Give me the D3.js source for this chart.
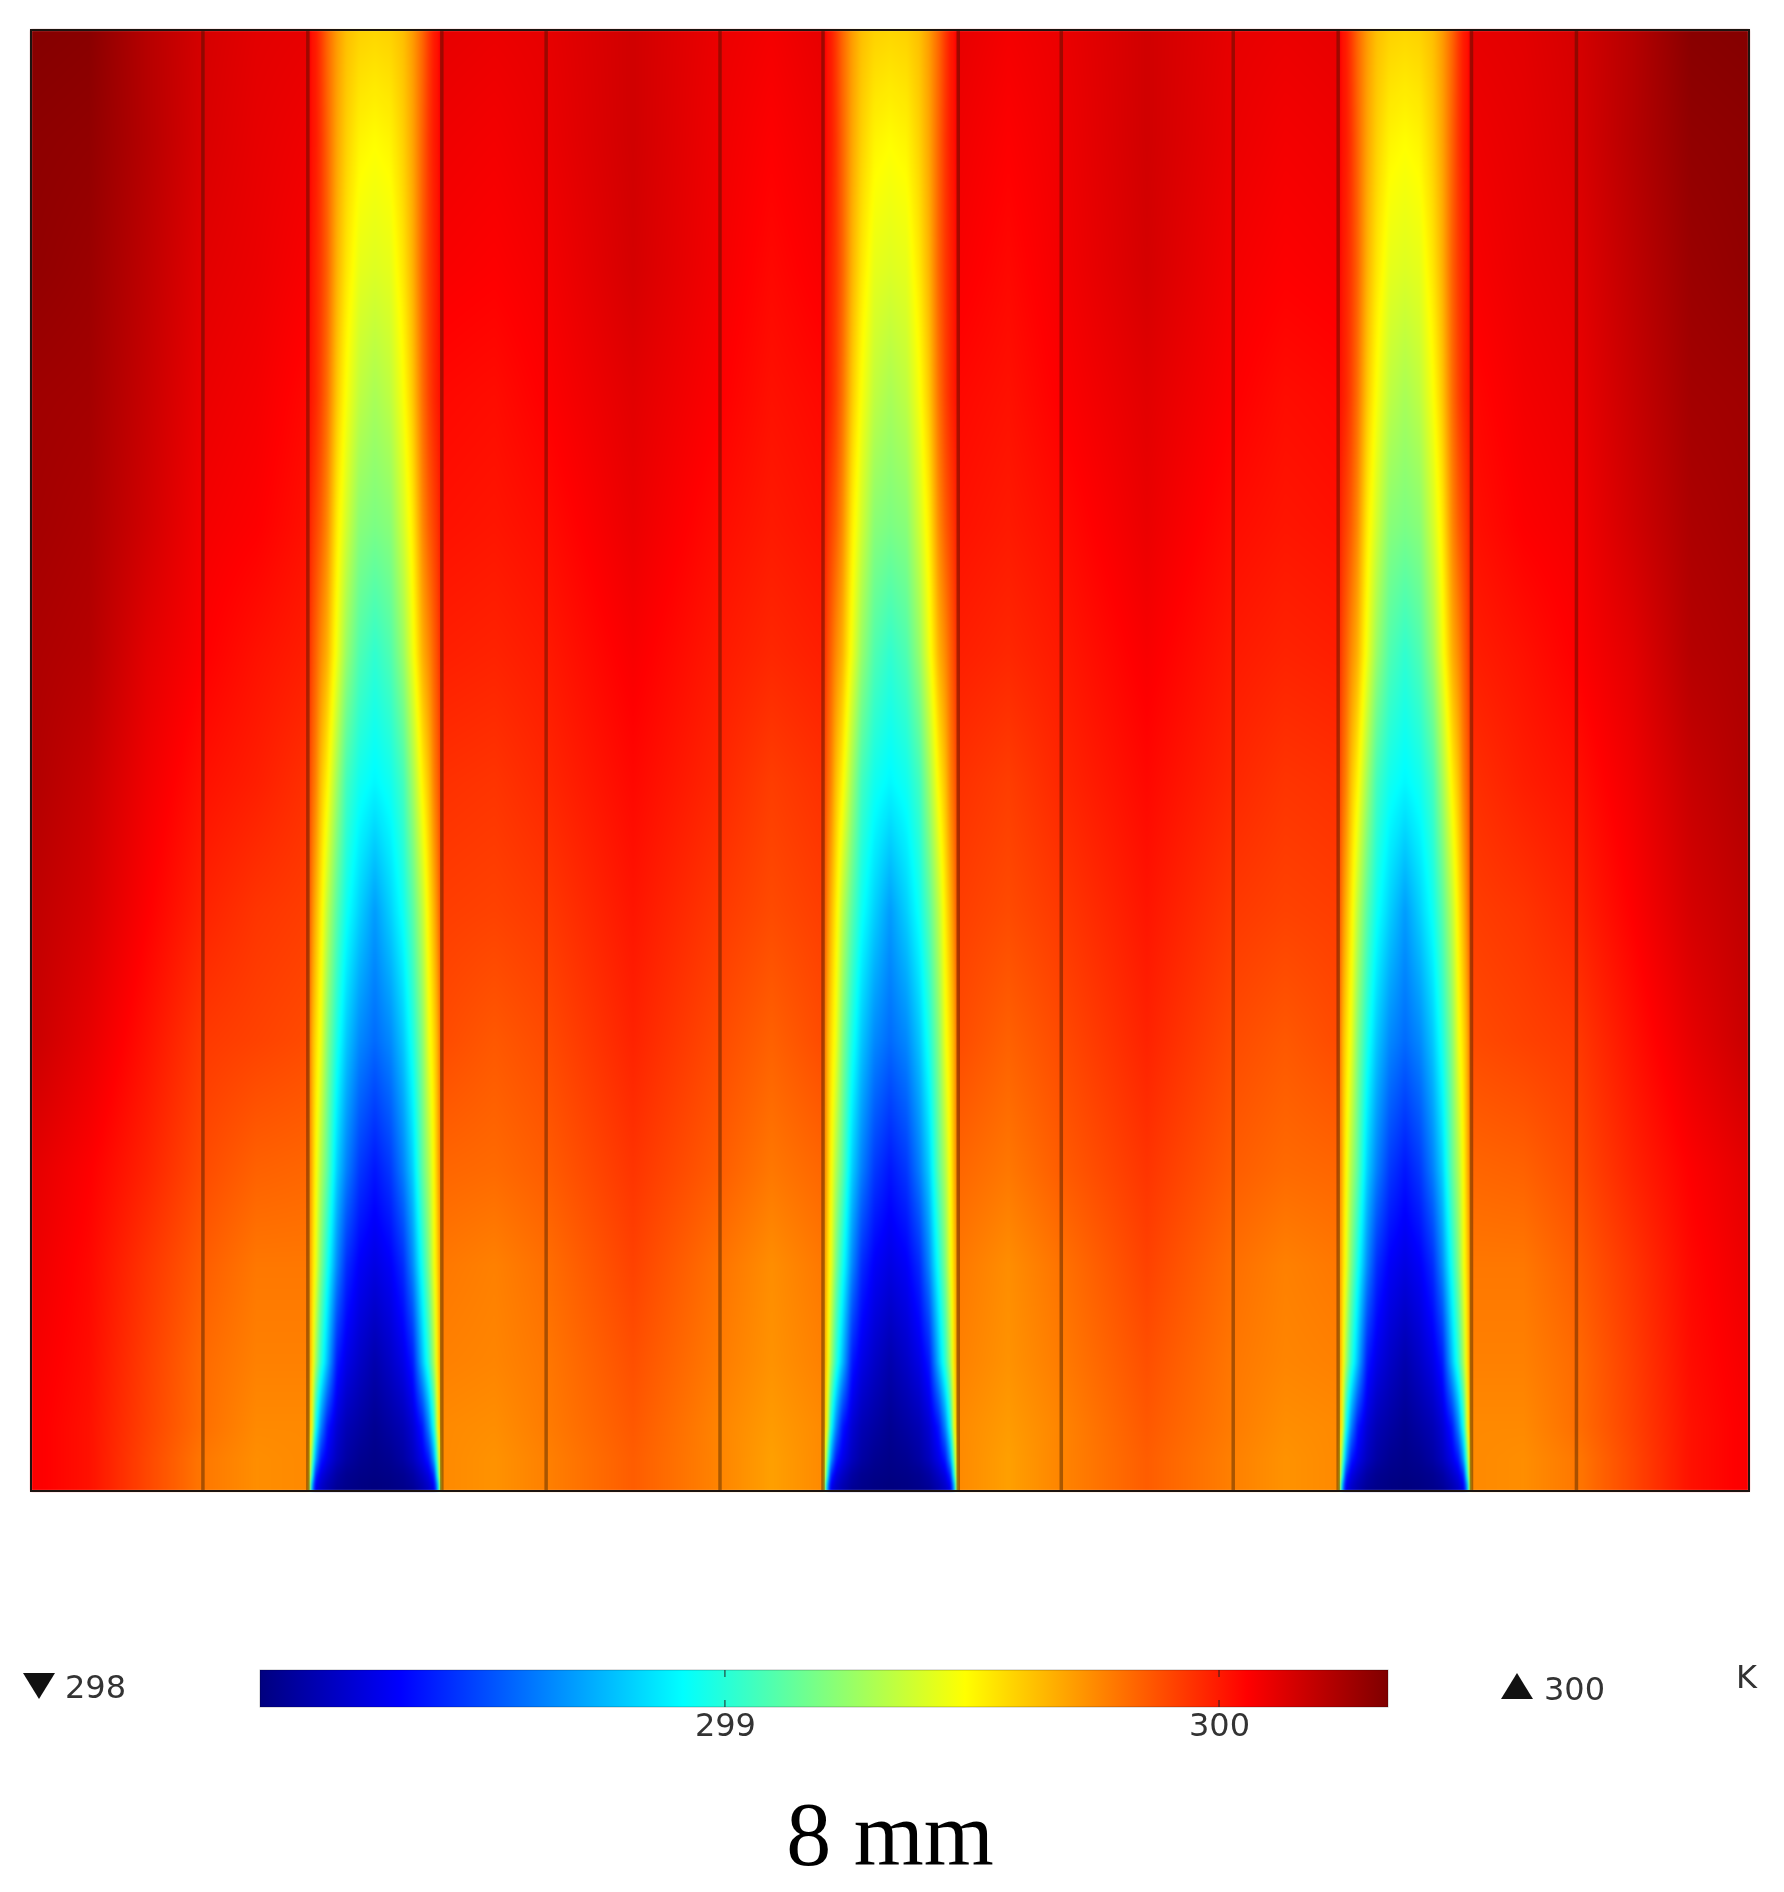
<!DOCTYPE html>
<html>
<head>
<meta charset="utf-8">
<script src="https://cdn.jsdelivr.net/npm/d3@7"></script>
<style>
  html, body { margin: 0; background: #fff; }
  #chart { position: relative; width: 1784px; height: 1892px; overflow: hidden; }
  #chart canvas, #chart svg { position: absolute; }
  #chart canvas { filter: blur(1.2px); }
</style>
</head>
<body>
<div id="chart"></div>
<script>
// temperatures in K. heights run bottom to top, in mm
const heights = [0, 0.1, 0.25, 0.5, 1, 2, 3.5, 5, 7, 9, 11, 13, 15, 17, 19, 21, 22.7];

// distance from the channel wall to the channel centre, in mm
const channelOffsets = [0, 0.06, 0.12, 0.2, 0.3, 0.45, 0.6, 0.8, 1.04];
const channelT = [
  [299.75, 298.74, 298.29, 298.22, 298.17, 298.10, 298.08, 298.07, 298.06],
  [299.75, 298.79, 298.34, 298.24, 298.18, 298.12, 298.09, 298.07, 298.06],
  [299.75, 299.02, 298.45, 298.29, 298.22, 298.14, 298.10, 298.08, 298.07],
  [299.75, 299.20, 298.70, 298.41, 298.30, 298.20, 298.14, 298.10, 298.08],
  [299.75, 299.47, 298.97, 298.65, 298.40, 298.25, 298.18, 298.14, 298.10],
  [299.77, 299.57, 299.29, 299.02, 298.77, 298.40, 298.29, 298.22, 298.16],
  [299.79, 299.61, 299.45, 299.20, 298.97, 298.65, 298.44, 298.33, 298.28],
  [299.83, 299.66, 299.50, 299.31, 299.13, 298.81, 298.63, 298.47, 298.39],
  [299.89, 299.68, 299.57, 299.45, 299.22, 298.97, 298.79, 298.65, 298.58],
  [299.92, 299.77, 299.66, 299.53, 299.34, 299.11, 298.94, 298.81, 298.69],
  [299.95, 299.84, 299.77, 299.63, 299.51, 299.27, 299.06, 298.95, 298.90],
  [299.99, 299.90, 299.84, 299.75, 299.66, 299.45, 299.25, 299.09, 299.02],
  [300.02, 299.95, 299.91, 299.85, 299.75, 299.53, 299.38, 299.22, 299.19],
  [300.04, 300.00, 299.97, 299.91, 299.81, 299.61, 299.47, 299.34, 299.29],
  [300.07, 300.01, 299.98, 299.93, 299.84, 299.66, 299.54, 299.43, 299.41],
  [300.09, 300.02, 300.00, 299.94, 299.84, 299.69, 299.59, 299.51, 299.49],
  [300.11, 300.02, 300.00, 299.93, 299.83, 299.71, 299.63, 299.59, 299.58],
];

// outer plate, left side. the right side is its mirror
const outerX = [0, 0.9, 1.8, 2.67, 3.5];
const outerT = [
  [300.07, 300.02, 299.90, 299.79, 299.74],
  [300.07, 300.02, 299.90, 299.79, 299.74],
  [300.07, 300.02, 299.90, 299.79, 299.74],
  [300.07, 300.02, 299.90, 299.79, 299.74],
  [300.07, 300.02, 299.91, 299.81, 299.75],
  [300.08, 300.03, 299.92, 299.82, 299.77],
  [300.10, 300.04, 299.94, 299.85, 299.79],
  [300.12, 300.06, 299.98, 299.89, 299.84],
  [300.18, 300.11, 300.02, 299.93, 299.91],
  [300.20, 300.15, 300.06, 299.98, 299.94],
  [300.23, 300.18, 300.09, 300.02, 299.99],
  [300.24, 300.22, 300.12, 300.06, 300.02],
  [300.26, 300.24, 300.16, 300.08, 300.06],
  [300.27, 300.26, 300.18, 300.10, 300.08],
  [300.30, 300.28, 300.20, 300.12, 300.10],
  [300.31, 300.30, 300.22, 300.14, 300.11],
  [300.33, 300.32, 300.22, 300.15, 300.12],
];

// solid between two channels
const ribX = [7.2, 8, 9.35, 10.7, 11.5];
const ribT = [
  [299.73, 299.77, 299.85, 299.76, 299.70],
  [299.73, 299.77, 299.85, 299.76, 299.70],
  [299.73, 299.77, 299.85, 299.76, 299.70],
  [299.73, 299.77, 299.85, 299.76, 299.70],
  [299.74, 299.78, 299.86, 299.76, 299.71],
  [299.76, 299.79, 299.88, 299.78, 299.73],
  [299.77, 299.81, 299.91, 299.80, 299.74],
  [299.82, 299.85, 299.94, 299.85, 299.79],
  [299.86, 299.89, 299.98, 299.89, 299.84],
  [299.91, 299.93, 300.01, 299.93, 299.89],
  [299.94, 299.97, 300.04, 299.97, 299.92],
  [299.98, 300.00, 300.07, 300.00, 299.97],
  [300.01, 300.03, 300.10, 300.03, 300.00],
  [300.03, 300.06, 300.12, 300.06, 300.02],
  [300.06, 300.08, 300.15, 300.08, 300.04],
  [300.08, 300.10, 300.16, 300.09, 300.06],
  [300.10, 300.11, 300.16, 300.10, 300.08],
];

const channelWalls = [[4.3, 6.38], [12.3, 14.4], [20.3, 22.37]];
const domainLines = [2.67, 4.3, 6.38, 8, 10.7, 12.3, 14.4, 16, 18.67, 20.3, 22.37, 24];
const plateWidth = 26.68;
const plateHeight = 22.7;

const colorStops = [298.059, 298.344, 298.915, 299.486, 300.057, 300.342];
const colorNames = ['#00007f', '#0000ff', '#00ffff', '#ffff00', '#ff0000', '#7f0000'];
const legendTicks = [299, 300];
const minLabel = '298';
const maxLabel = '300';
const unitLabel = 'K';
const titleLabel = '8 mm';

const style = {
  line: 'rgba(40, 20, 0, 0.4)',
  frame: '#1c1410',
  tick: '#222',
  text: '#333',
};

// put the three channels and the solids together, left to right
function channelColumns(row, wall) {
  const rightHalf = channelOffsets.slice(0, -1).map((o, k) => [wall[1] - o, row[k]]).reverse();
  const leftHalf = channelOffsets.map((o, k) => [wall[0] + o, row[k]]);
  return leftHalf.concat(rightHalf);
}

function rowColumns(i) {
  const ribA = ribX.map((x, k) => [x, ribT[i][k]]);
  const ribB = ribX.map((x, k) => [plateWidth - x, ribT[i][k]]).reverse();
  const outerA = outerX.map((x, k) => [x, outerT[i][k]]);
  const outerB = outerX.map((x, k) => [plateWidth - x, outerT[i][k]]).reverse();
  return [
    ...outerA,
    ...channelColumns(channelT[i], channelWalls[0]),
    ...ribA,
    ...channelColumns(channelT[i], channelWalls[1]),
    ...ribB,
    ...channelColumns(channelT[i], channelWalls[2]),
    ...outerB,
  ];
}

const columns = heights.map((_, i) => rowColumns(i));
const columnX = columns[0].map((c) => c[0]);
const grid = columns.map((row) => row.map((c) => c[1]));

const plot = { left: 31, right: 1749, top: 30, bottom: 1491 };
const x = d3.scaleLinear().domain([0, plateWidth]).range([plot.left, plot.right]);
const y = d3.scaleLinear().domain([0, plateHeight]).range([plot.bottom, plot.top]);
const color = d3.scaleLinear().domain(colorStops).range(colorNames).interpolate(d3.interpolateRgb).clamp(true);

const chart = d3.select('#chart');

// heat map
const plotW = plot.right - plot.left;
const plotH = plot.bottom - plot.top;
const canvas = chart.append('canvas')
  .attr('width', plotW)
  .attr('height', plotH)
  .style('left', `${plot.left}px`)
  .style('top', `${plot.top}px`);
const ctx = canvas.node().getContext('2d');
const image = ctx.createImageData(plotW, plotH);

function lookup(values, v) {
  const hi = Math.min(Math.max(d3.bisectRight(values, v), 1), values.length - 1);
  const t = (v - values[hi - 1]) / (values[hi] - values[hi - 1]);
  return [hi - 1, hi, t];
}

const xLook = d3.range(plotW).map((i) => lookup(columnX, x.invert(plot.left + i + 0.5)));
const colorCache = d3.range(1024).map((i) => d3.rgb(color(298.059 + (2.283 * i) / 1023)));
let p = 0;
for (let j = 0; j < plotH; j++) {
  const [r0, r1, ty] = lookup(heights, y.invert(plot.top + j + 0.5));
  for (let i = 0; i < plotW; i++) {
    const [c0, c1, tx] = xLook[i];
    const low = grid[r0][c0] * (1 - tx) + grid[r0][c1] * tx;
    const high = grid[r1][c0] * (1 - tx) + grid[r1][c1] * tx;
    const t = low * (1 - ty) + high * ty;
    const c = colorCache[Math.max(0, Math.min(1023, Math.round(((t - 298.059) / 2.283) * 1023)))];
    image.data[p++] = c.r;
    image.data[p++] = c.g;
    image.data[p++] = c.b;
    image.data[p++] = 255;
  }
}
ctx.putImageData(image, 0, 0);

const svg = chart.append('svg')
  .attr('width', 1784)
  .attr('height', 1892)
  .style('left', 0)
  .style('top', 0);

svg.append('g')
  .attr('class', 'chart__domains')
  .selectAll('line')
  .data(domainLines)
  .enter()
  .append('line')
  .attr('x1', (d) => x(d))
  .attr('x2', (d) => x(d))
  .attr('y1', plot.top)
  .attr('y2', plot.bottom)
  .attr('stroke', style.line)
  .attr('stroke-width', 3.5);

svg.append('rect')
  .attr('x', plot.left)
  .attr('y', plot.top)
  .attr('width', plotW)
  .attr('height', plotH)
  .attr('fill', 'none')
  .attr('stroke', style.frame)
  .attr('stroke-width', 2);

// colour legend
const legend = { left: 260, right: 1388, top: 1670, bottom: 1707 };
const legendX = d3.scaleLinear()
  .domain([colorStops[0], colorStops[colorStops.length - 1]])
  .range([legend.left, legend.right]);

const gradient = svg.append('defs').append('linearGradient')
  .attr('id', 'legend-gradient');
gradient.selectAll('stop')
  .data(colorStops)
  .enter()
  .append('stop')
  .attr('offset', (d) => (legendX(d) - legend.left) / (legend.right - legend.left))
  .attr('stop-color', (d) => color(d));

svg.append('rect')
  .attr('x', legend.left)
  .attr('y', legend.top)
  .attr('width', legend.right - legend.left)
  .attr('height', legend.bottom - legend.top)
  .attr('fill', 'url(#legend-gradient)')
  .attr('stroke', 'rgba(0, 0, 0, 0.25)')
  .attr('stroke-width', 1);

const legendAxis = d3.axisBottom(legendX)
  .tickValues(legendTicks)
  .tickFormat(d3.format('d'))
  .tickSize(0)
  .tickPadding(0);

const axisG = svg.append('g')
  .attr('class', 'chart__legend-axis')
  .attr('transform', `translate(0, ${legend.bottom})`)
  .call(legendAxis);
axisG.select('.domain').remove();
axisG.selectAll('text')
  .attr('y', 29)
  .attr('dy', 0)
  .attr('font-family', '"DejaVu Sans"')
  .attr('font-size', 32)
  .attr('fill', style.text);

[legend.top, legend.bottom - 7].forEach((top) => {
  svg.append('g').selectAll('line')
    .data(legendTicks)
    .enter()
    .append('line')
    .attr('x1', (d) => legendX(d))
    .attr('x2', (d) => legendX(d))
    .attr('y1', top)
    .attr('y2', top + 7)
    .attr('stroke', style.tick)
    .attr('stroke-width', 1);
});

svg.append('path')
  .attr('d', 'M23,1673 L55,1673 L39,1699 Z')
  .attr('fill', '#111');
svg.append('path')
  .attr('d', 'M1517,1673 L1533,1699 L1501,1699 Z')
  .attr('fill', '#111');

const legendText = [
  { text: minLabel, x: 65, y: 1698 },
  { text: maxLabel, x: 1544, y: 1700 },
  { text: unitLabel, x: 1736, y: 1688 },
];
svg.append('g').selectAll('text')
  .data(legendText)
  .enter()
  .append('text')
  .attr('x', (d) => d.x)
  .attr('y', (d) => d.y)
  .attr('font-family', '"DejaVu Sans"')
  .attr('font-size', 32)
  .attr('fill', style.text)
  .text((d) => d.text);

svg.append('text')
  .attr('x', 890)
  .attr('y', 1865)
  .attr('text-anchor', 'middle')
  .attr('font-family', '"Liberation Serif"')
  .attr('font-size', 90)
  .attr('fill', '#000')
  .text(titleLabel);
</script>
</body>
</html>
